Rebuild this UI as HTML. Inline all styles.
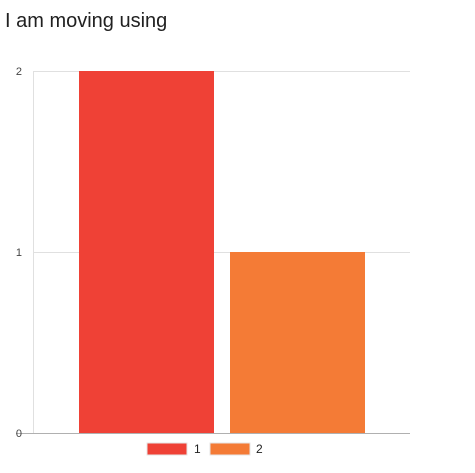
<!DOCTYPE html>
<html><head><meta charset="utf-8"><style>
body{margin:0;background:#fff;width:475px;height:468px;overflow:hidden;font-family:"Liberation Sans",Arial,sans-serif}
</style></head><body>
<svg width="475" height="468">
<text x="5" y="27" font-size="20" fill="#212121">I am moving using</text>
<g id="grid"></g><g id="bars"></g>
<g>
<rect x="147" y="443" width="40" height="12" fill="#ef4136" stroke="#e6e6e6" stroke-width="1"/>
<text x="194" y="453" font-size="12" fill="#222">1</text>
<rect x="210" y="443" width="40" height="12" fill="#f47b36" stroke="#e6e6e6" stroke-width="1"/>
<text x="256" y="453" font-size="12" fill="#222">2</text>
</g>
</svg>
<script>
const categories=["1","2"];
const values=[2,1];
const ticks=[0,1,2];
const colors=["#ef4136","#f47b36"];
const x0=33,x1=410,yb=433,yt=71,maxV=2;
const y=v=>yb-(yb-yt)*v/maxV;
const ns="http://www.w3.org/2000/svg";
const g=document.getElementById('grid'),b=document.getElementById('bars');
function mk(t,a,p){const e=document.createElementNS(ns,t);for(const k in a)e.setAttribute(k,a[k]);p.appendChild(e);return e;}
const va=mk('line',{x1:x0+0.5,x2:x0+0.5,y1:yt,y2:yb,stroke:'#e0e0e0'},g);


ticks.forEach(t=>{
 const l=mk('line',{x1:t===0?16:x0,x2:x1,y1:y(t)+0.5,y2:y(t)+0.5,stroke:t===0?'#b0b0b0':'#e0e0e0'},g);
 
 
 const tx=mk('text',{x:22,y:y(t)+4,'font-size':11,fill:'#444','text-anchor':'end'},g);
 tx.textContent=t;
 
 
});
const slot=151,bw=135,start=79;
values.forEach((v,i)=>{
 const r=mk('rect',{x:start+i*slot,y:y(v),width:bw,height:yb-y(v),fill:colors[i]},b);
 
 
});
</script>
</body></html>
